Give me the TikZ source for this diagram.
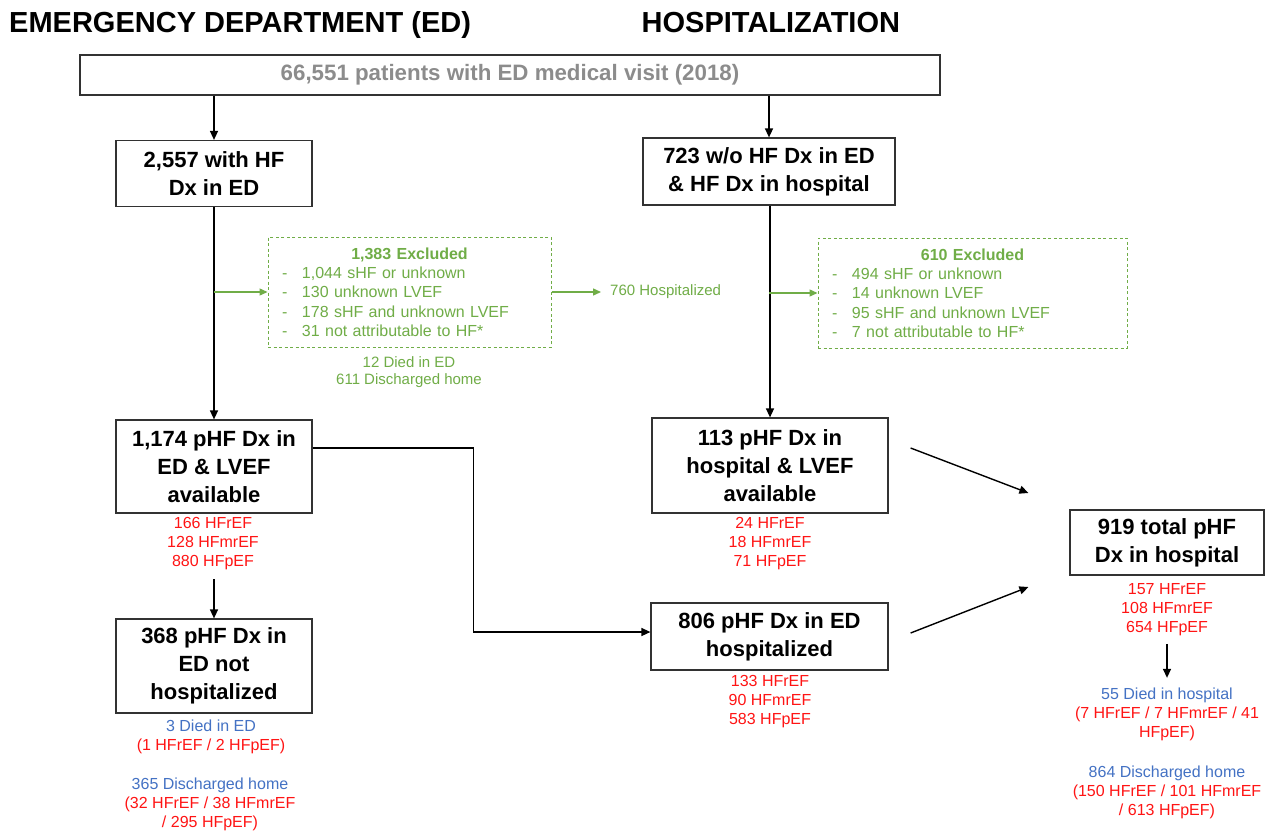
\documentclass[tikz,border=0pt]{standalone}
\usepackage{fontspec}
\setmainfont{Liberation Sans}
\usetikzlibrary{arrows.meta,calc}
\definecolor{grn}{RGB}{112,173,71}
\definecolor{blu}{RGB}{68,114,196}
\definecolor{rd}{RGB}{255,20,20}
\definecolor{gry}{RGB}{140,140,140}
\definecolor{bord}{RGB}{50,50,50}
\begin{document}
\begin{tikzpicture}[x=1pt,y=-1pt,
 box/.style={draw=bord,line width=1.2pt,align=center,font=\bfseries\fontsize{22}{28}\selectfont,inner sep=0pt},
 arr/.style={-{Triangle[length=9pt,width=8pt]},line width=1.4pt},
 garr/.style={-{Triangle[length=8pt,width=7pt]},line width=1.4pt,draw=grn,fill=grn},
 exc/.style={draw=grn,line width=1pt,dash pattern=on 3pt off 2.5pt,text=grn,align=left,inner xsep=14pt,inner ysep=0pt,font=\fontsize{16}{19.3}\selectfont},
 red3/.style={text=rd,align=center,font=\fontsize{16}{19}\selectfont,inner sep=0pt},
 ttl/.style={font=\bfseries\fontsize{29}{31}\selectfont,anchor=base west,inner sep=0pt},
 gtxt/.style={text=grn,align=center,font=\fontsize{15}{17}\selectfont,inner sep=0pt}]
\fill[white] (0,0) rectangle (1272,833);
\useasboundingbox (0,0) rectangle (1272,833);

% titles
\node[ttl] (t1) at (9,32.7) {EMERGENCY DEPARTMENT (ED)};
\node[ttl] (t2) at (641.5,32.7) {HOSPITALIZATION};

% top box
\node[box,minimum width=860pt,minimum height=40pt,text=gry,font=\bfseries\fontsize{22.3}{24}\selectfont] (top) at (510,75) {66,551 patients with ED medical visit (2018)};

% main boxes
\node[box,minimum width=196pt,minimum height=66pt] (b1) at (214,173.5) {2,557 with HF\\Dx in ED};
\node[box,minimum width=252pt,minimum height=67pt] (b2) at (769,171.5) {723 w/o HF Dx in ED\\\& HF Dx in hospital};
\node[box,minimum width=196pt,minimum height=93pt] (b3) at (214,466.5) {1,174 pHF Dx in\\ED \& LVEF\\available};
\node[box,minimum width=196pt,minimum height=94pt] (b4) at (214,666) {368 pHF Dx in\\ED not\\hospitalized};
\node[box,minimum width=236pt,minimum height=95pt] (b5) at (770,465.5) {113 pHF Dx in\\hospital \& LVEF\\available};
\node[box,minimum width=237pt,minimum height=67pt] (b6) at (769.5,636.5) {806 pHF Dx in ED\\hospitalized};
\node[box,minimum width=194pt,minimum height=65pt] (b7) at (1167,542.5) {919 total pHF\\Dx in hospital};

% excluded boxes
\node[exc,text width=255pt,minimum height=110pt] (e1) at (409.5,292) {\makebox[255pt][c]{\bfseries 1,383 Excluded}\\
\makebox[20pt][l]{-}1,044 sHF or unknown\\
\makebox[20pt][l]{-}130 unknown LVEF\\
\makebox[20pt][l]{-}178 sHF and unknown LVEF\\
\makebox[20pt][l]{-}31 not attributable to HF*};
\node[exc,text width=281pt,minimum height=110pt] (e2) at (972.5,293) {\makebox[281pt][c]{\bfseries 610 Excluded}\\
\makebox[20pt][l]{-}494 sHF or unknown\\
\makebox[20pt][l]{-}14 unknown LVEF\\
\makebox[20pt][l]{-}95 sHF and unknown LVEF\\
\makebox[20pt][l]{-}7 not attributable to HF*};

\node[gtxt,anchor=west] (h760) at (610,292) {760 Hospitalized};
\node[gtxt] (d12) at (409,372.5) {12 Died in ED\\611 Discharged home};

% red counts
\node[red3] (r3) at (213,544) {166 HFrEF\\128 HFmrEF\\880 HFpEF};
\node[red3] (r5) at (770,544) {24 HFrEF\\18 HFmrEF\\71 HFpEF};
\node[red3] (r6) at (770,702) {133 HFrEF\\90 HFmrEF\\583 HFpEF};
\node[red3] (r7) at (1167,609.5) {157 HFrEF\\108 HFmrEF\\654 HFpEF};

% outcomes
\node[red3] (o4a) at (211,736.5) {{\color{blu}3 Died in ED}\\(1 HFrEF / 2 HFpEF)};
\node[red3] (o4b) at (210,804) {{\color{blu}365 Discharged home}\\(32 HFrEF / 38 HFmrEF\\/ 295 HFpEF)};
\node[red3] (o7a) at (1167,714.5) {{\color{blu}55 Died in hospital}\\(7 HFrEF / 7 HFmrEF / 41\\HFpEF)};
\node[red3] (o7b) at (1167,792.5) {{\color{blu}864 Discharged home}\\(150 HFrEF / 101 HFmrEF\\/ 613 HFpEF)};

% connectors
\draw[arr] (top.south -| b1.north) -- (b1.north);
\draw[arr] (top.south -| b2.north) -- (b2.north);
\draw[arr] (b1.south) -- (b3.north);
\draw[arr] (b2.south -| b5.north) -- (b5.north);
\draw[garr] (b1.south |- e1.west) -- (e1.west);
\draw[garr] (b2.south |- e2.west) -- (e2.west);
\draw[garr,shorten >=9pt] (e1.east) -- (h760.west);
\draw[arr] ([yshift=-9pt]r3.south -| b4.north) -- (b4.north);
\draw[arr] ([yshift=18.5pt]b3.east) -- ++(161,0) |- ([yshift=4.5pt]b6.west);
\draw[arr] ([xshift=22pt,yshift=17.5pt]b5.east) -- ([xshift=-41pt,yshift=49.5pt]b7.west);
\draw[arr] ([xshift=22pt,yshift=3.5pt]b6.east) -- ([xshift=-41pt,yshift=-44.5pt]b7.west);
\draw[arr] ([yshift=-8pt]r7.south) -- ([yshift=10pt]o7a.north);
\end{tikzpicture}
\end{document}
